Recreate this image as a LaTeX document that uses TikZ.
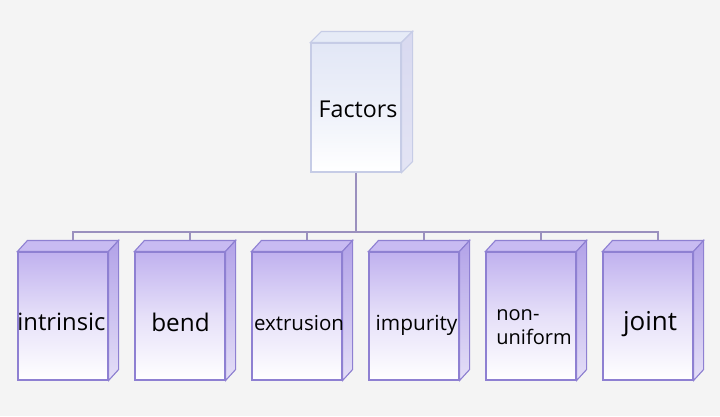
\documentclass[tikz,border=0pt]{standalone}
\usepackage{fontspec}
\setmainfont{Open Sans}
\usetikzlibrary{positioning,calc}
\definecolor{bg}{HTML}{F4F4F4}
\definecolor{edge}{HTML}{8E80D2}
\definecolor{lilac}{HTML}{C0B1EF}
\definecolor{lilacside}{HTML}{B2A2E8}
\definecolor{lilactop}{HTML}{C8BBF2}
\definecolor{pale}{HTML}{E2E7F6}
\definecolor{paleedge}{HTML}{C6CCE6}
\definecolor{paleside}{HTML}{D8D9F0}
\definecolor{link}{HTML}{9A90BE}

\tikzset{
  factorbox/.style={rectangle, draw=edge, line width=1.1pt, minimum width=90pt,
    minimum height=128pt, inner sep=0pt, top color=lilac, bottom color=white,
    middle color=lilac!40!white},
  headbox/.style={rectangle, draw=paleedge, line width=1.1pt, minimum width=90pt,
    minimum height=129pt, inner sep=0pt, top color=pale, bottom color=white,
    middle color=pale!60!white},
  tag/.style={inner sep=0pt, anchor=base, text=black},
  linkline/.style={draw=link, line width=2pt},
}

\begin{document}
\begin{tikzpicture}[x=1pt,y=-1pt]
\fill[bg] (0,0) rectangle (720,416);
\useasboundingbox (0,0) rectangle (720,416);

% top box
\node[headbox] (fac) at (356,107.5) {};
\filldraw[draw=paleedge, line width=1.1pt, fill=pale!85!white] (fac.north west) -- ($(fac.north west)+(11,-11)$) -- ($(fac.north east)+(11,-11)$) -- (fac.north east) -- cycle;
\filldraw[draw=paleedge, line width=1.1pt, top color=paleside, bottom color=paleside!70!white] (fac.north east) -- ($(fac.north east)+(11,-11)$) -- ($(fac.south east)+(11,-11)$) -- (fac.south east) -- cycle;
\node[tag, font=\fontsize{23.2}{27}\selectfont] (fac-t) at (358,117) {Factors};

% bottom boxes
\node[factorbox] (intr) at (63,316) {};
\node[factorbox] (bend) at (180,316) {};
\node[factorbox] (extr) at (297,316) {};
\node[factorbox] (impu) at (414,316) {};
\node[factorbox] (nonu) at (531,316) {};
\node[factorbox] (join) at (648,316) {};

\foreach \b in {intr,bend,extr,impu,nonu,join}{
  \filldraw[draw=edge, line width=1.1pt, fill=lilactop] (\b.north west) -- ($(\b.north west)+(10,-11)$) -- ($(\b.north east)+(10,-11)$) -- (\b.north east) -- cycle;
  \filldraw[draw=edge, line width=1.1pt, top color=lilacside, bottom color=lilacside!35!white] (\b.north east) -- ($(\b.north east)+(10,-11)$) -- ($(\b.south east)+(10,-11)$) -- (\b.south east) -- cycle;
}

\node[tag, font=\fontsize{23.8}{28}\selectfont] (intr-t) at (61.5,330) {intrinsic};
\node[tag, font=\fontsize{24.3}{28}\selectfont] (bend-t) at (180.5,331) {bend};
\node[tag, font=\fontsize{20.5}{24}\selectfont] (extr-t) at (299,330) {extrusion};
\node[tag, font=\fontsize{20.8}{24}\selectfont] (impu-t) at (416.5,330) {impurity};
\node[font=\fontsize{20}{24}\selectfont, align=left, inner sep=0pt] (nonu-t) at (534,327) {non-\\uniform};
\node[tag, font=\fontsize{26}{30}\selectfont] (join-t) at (650,330) {joint};

% connectors
\coordinate (bus) at (356,232);
\draw[linkline] (fac.south) -- (bus);
\foreach \b in {intr,bend,extr,impu,nonu,join}{
  \draw[linkline] (bus) -| ($(\b.north)+(10,-11)$);
}

\end{tikzpicture}
\end{document}
